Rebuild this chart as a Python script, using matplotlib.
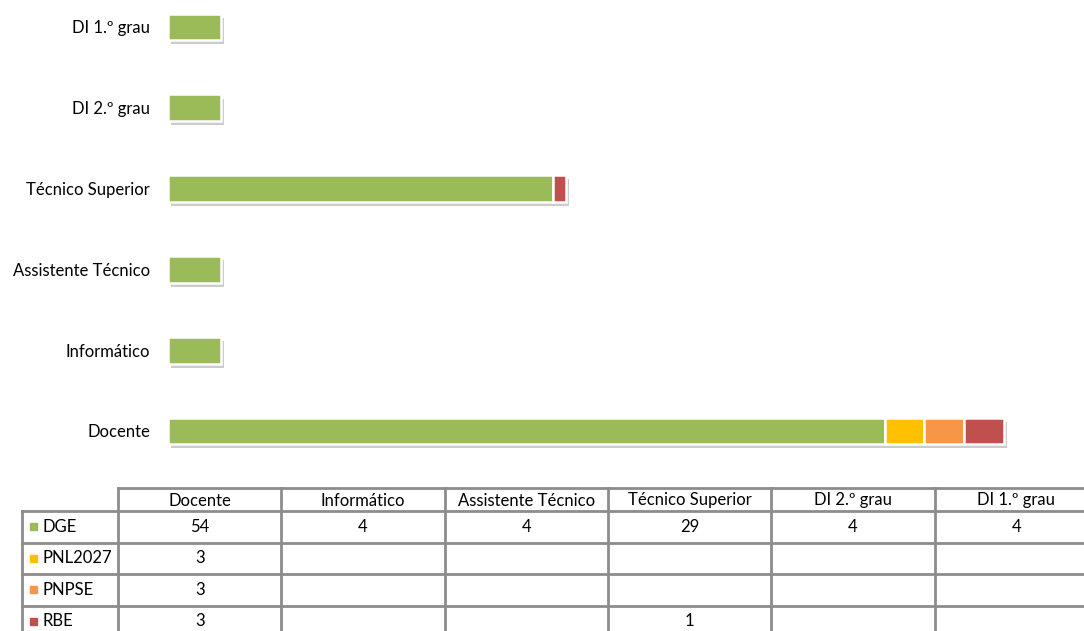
import numpy as np
import matplotlib.pyplot as plt
import matplotlib.patheffects as pe

plt.rcParams['font.family'] = ['Lato', 'DejaVu Sans']

categories = ["Docente", "Informático", "Assistente Técnico", "Técnico Superior",
              "DI 2.º grau", "DI 1.º grau"]
series_names = ["DGE", "PNL2027", "PNPSE", "RBE"]
dge = [54, 4, 4, 29, 4, 4]
pnl2027 = [3, None, None, None, None, None]
pnpse = [3, None, None, None, None, None]
rbe = [3, None, None, 1, None, None]
colors = ["#9BBB59", "#FFC000", "#F79646", "#C0504D"]

series = [dge, pnl2027, pnpse, rbe]

W, H = 1084, 631
fig = plt.figure(figsize=(W / 100, H / 100), dpi=100)

# bar area (pixel layout)
left, right, top, bottom = 168, 1084, 0, 471.4
ax = fig.add_axes([left / W, 1 - bottom / H, (right - left) / W, (bottom - top) / H])
y = np.arange(len(categories))
base = np.zeros(len(categories))
shadow = [pe.SimplePatchShadow(offset=(2, -3), shadow_rgbFace='#808080', alpha=0.4), pe.Normal()]
for vals, col in zip(series, colors):
    v = np.array([0 if x is None else x for x in vals], dtype=float)
    bars = ax.barh(y, v, left=base, height=0.33, color=col, edgecolor='white', linewidth=1.8)
    for b, val in zip(bars, v):
        if val > 0:
            b.set_path_effects(shadow)
        else:
            b.set_visible(False)
    base += v
ax.set_xlim(0, (right - left) / 13.27)
ax.set_ylim(-0.5, 5.334)
ax.set_yticks(y)
ax.set_yticklabels(categories, fontsize=12)
ax.tick_params(axis='y', length=0, pad=13)
ax.set_xticks([])
for s in ax.spines.values():
    s.set_visible(False)

# data table below
tax = fig.add_axes([0, 0, 1, 1])
tax.set_xlim(0, W)
tax.set_ylim(H, 0)
tax.axis('off')
grid = '#8C8C8C'
lbl_l, col0, colw = 22, 118, 163.3
hdr_t, hdr_b, rowh = 488, 511, 31.5
col_edges = [col0 + i * colw for i in range(len(categories) + 1)]
row_edges = [hdr_b + i * rowh for i in range(len(series_names) + 1)]
tax.plot([col0, col_edges[-1]], [hdr_t, hdr_t], color=grid, lw=2)
for ry in row_edges:
    tax.plot([lbl_l, col_edges[-1]], [ry, ry], color=grid, lw=2)
tax.plot([lbl_l, lbl_l], [hdr_b, row_edges[-1]], color=grid, lw=2)
for cx in col_edges:
    tax.plot([cx, cx], [hdr_t, row_edges[-1]], color=grid, lw=2)
for i, c in enumerate(categories):
    tax.text(col_edges[i] + colw / 2, (hdr_t + hdr_b) / 2 + 1, c, ha='center', va='center', fontsize=12)
for r, (name, vals, col) in enumerate(zip(series_names, series, colors)):
    cy = row_edges[r] + rowh / 2
    tax.add_patch(plt.Rectangle((30, cy - 3.5), 7, 7, color=col))
    tax.text(43, cy, name, ha='left', va='center', fontsize=12)
    for i, v in enumerate(vals):
        if v is not None:
            tax.text(col_edges[i] + colw / 2, cy, str(v), ha='center', va='center', fontsize=12)

fig.savefig("out.png", dpi=100)
